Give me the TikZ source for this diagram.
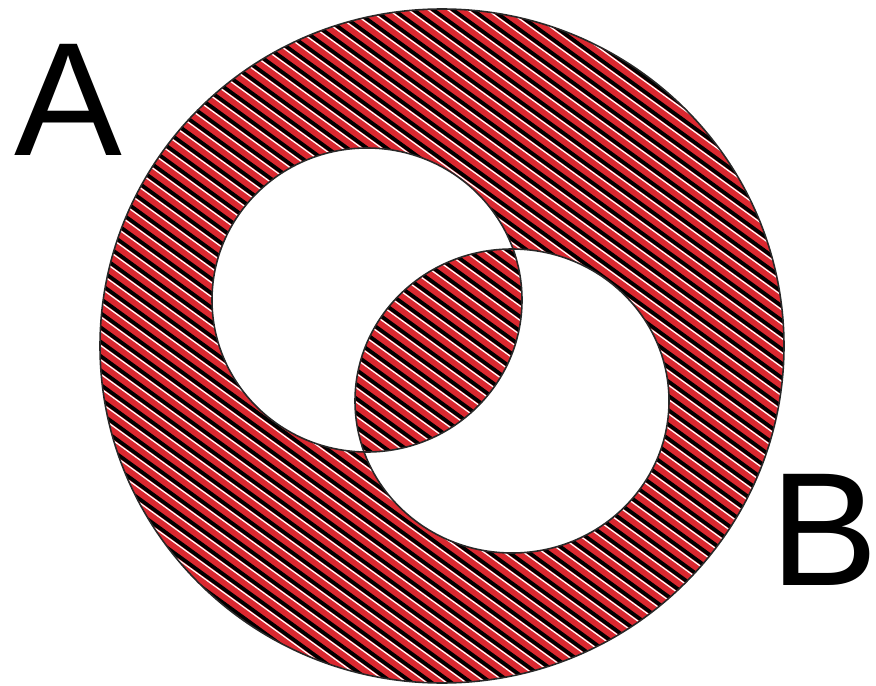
\documentclass[tikz,border=0pt]{standalone}
\usepackage{fontspec}
\setmainfont{Liberation Sans}
\usepackage{tikz}
\definecolor{hRed}{RGB}{218,40,48}
\definecolor{dRim}{RGB}{40,40,40}

\begin{document}
\begin{tikzpicture}[x=0.02cm,y=-0.02cm,
  rim/.style={draw=dRim,line width=0.9pt},
  blk/.style={line width=2.1pt,black},
  wht/.style={line width=0.7pt,white},
  lbl/.style={font=\fontsize{92}{92}\selectfont,inner sep=0pt}]
\useasboundingbox (0,0) rectangle (876,686);
\coordinate (o) at (442,346);
\coordinate (ca) at (367,300);
\coordinate (cb) at (512,401);
% red region: ring plus lens
\fill[hRed,even odd rule] (o) ellipse [x radius=342,y radius=337]
  (ca) ellipse [x radius=155,y radius=152]
  (cb) ellipse [x radius=157,y radius=152];
% stripes
\begin{scope}[even odd rule]
\clip (o) ellipse [x radius=342,y radius=337]
  (ca) ellipse [x radius=155,y radius=152]
  (cb) ellipse [x radius=157,y radius=152];
\begin{scope}[shift={(o)},rotate=-36]
\foreach \k in {-32,...,32} {
  \draw[blk] (-450,\k*11.6) -- (450,\k*11.6);
  \draw[wht] (-450,\k*11.6+3) -- (450,\k*11.6+3);
}
\end{scope}
\end{scope}
% outlines
\draw[rim] (o) ellipse [x radius=342,y radius=337];
\draw[rim] (ca) ellipse [x radius=155,y radius=152];
\draw[rim] (cb) ellipse [x radius=157,y radius=152];
\node[lbl] (la) at (68,100) {A};
\node[lbl] (lb) at (824,530) {B};
\end{tikzpicture}
\end{document}
